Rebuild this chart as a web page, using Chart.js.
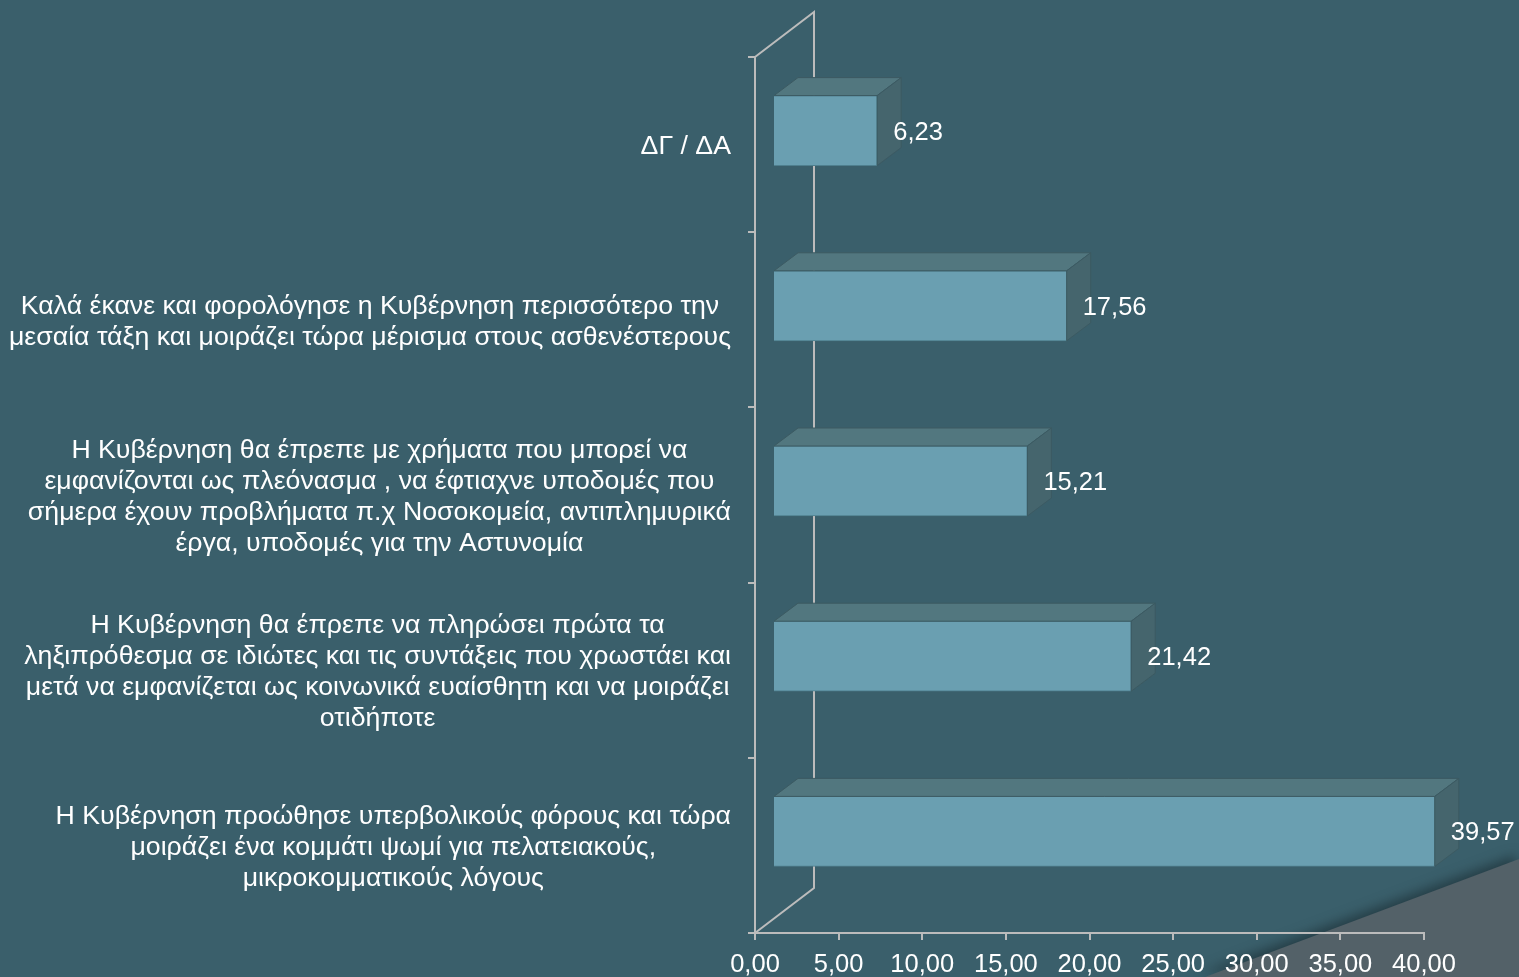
<!DOCTYPE html>
<html lang="el">
<head>
  <meta charset="UTF-8" />
  <title>Απόψεις για το μέρισμα</title>
  <script src="https://cdn.jsdelivr.net/npm/chart.js"></script>
  <style>
    body {
      margin: 0;
      background-color: #3a5f6b;
      overflow: hidden;
    }

    .wedge-wrap {
      position: absolute;
      left: 0;
      top: 0;
      width: 1519px;
      height: 977px;
      filter: drop-shadow(-3px -4px 6px rgba(20, 35, 40, 0.55));
    }

    .wedge {
      width: 100%;
      height: 100%;
      background-color: #536168;
      clip-path: polygon(1205px 977px, 1519px 859px, 1519px 977px);
    }

    .chart-box {
      position: relative;
      width: 1519px;
      height: 977px;
    }
  </style>
</head>
<body>
  <div class="wedge-wrap"><div class="wedge"></div></div>
  <div class="chart-box">
    <canvas id="opinionChart"></canvas>
  </div>

  <script>
    const categories = [
      ['ΔΓ / ΔΑ'],
      ['Καλά έκανε και φορολόγησε η Κυβέρνηση περισσότερο την',
       'μεσαία τάξη και μοιράζει τώρα μέρισμα στους ασθενέστερους'],
      ['Η Κυβέρνηση θα έπρεπε με χρήματα που μπορεί να',
       'εμφανίζονται ως πλεόνασμα , να έφτιαχνε υποδομές που',
       'σήμερα έχουν προβλήματα π.χ Νοσοκομεία, αντιπλημυρικά',
       'έργα, υποδομές για την Αστυνομία'],
      ['Η Κυβέρνηση θα έπρεπε να πληρώσει πρώτα τα',
       'ληξιπρόθεσμα σε ιδιώτες και τις συντάξεις που χρωστάει και',
       'μετά να εμφανίζεται ως κοινωνικά ευαίσθητη και να μοιράζει',
       'οτιδήποτε'],
      ['Η Κυβέρνηση προώθησε υπερβολικούς φόρους και τώρα',
       'μοιράζει ένα κομμάτι ψωμί για πελατειακούς,',
       'μικροκομματικούς λόγους']
    ];
    const percentages = [6.23, 17.56, 15.21, 21.42, 39.57];
    const axisMin = 0;
    const axisMax = 40;
    const axisStep = 5;

    const fmt = v => v.toFixed(2).replace('.', ',');
    const FONT = '"Liberation Sans", Arial, sans-serif';
    const lineColor = '#bcbcbc';

    // 3D offsets: bar front plane, bar depth, back wall
    const depth = { barDx: 18, barDy: -14, dx: 24, dy: -18, wallDx: 59, wallDy: -45 };

    const fake3d = {
      id: 'fake3d',
      beforeDatasetsDraw(chart) {
        const { ctx, chartArea: a } = chart;
        ctx.save();
        ctx.strokeStyle = lineColor;
        ctx.lineWidth = 2;
        ctx.beginPath();
        ctx.moveTo(a.left, a.top);
        ctx.lineTo(a.left + depth.wallDx, a.top + depth.wallDy);
        ctx.lineTo(a.left + depth.wallDx, a.bottom + depth.wallDy);
        ctx.lineTo(a.left, a.bottom);
        ctx.stroke();
        ctx.restore();

        ctx.save();
        ctx.translate(depth.barDx, depth.barDy);
      },
      afterDatasetsDraw(chart) {
        const { ctx } = chart;
        const meta = chart.getDatasetMeta(0);
        meta.data.forEach(bar => {
          const { x, y, base, height } = bar.getProps(['x', 'y', 'base', 'height'], true);
          const t = y - height / 2;
          const b = y + height / 2;
          ctx.lineWidth = 1;
          ctx.strokeStyle = '#3c5a62';
          // top face
          ctx.beginPath();
          ctx.moveTo(base, t);
          ctx.lineTo(base + depth.dx, t + depth.dy);
          ctx.lineTo(x + depth.dx, t + depth.dy);
          ctx.lineTo(x, t);
          ctx.closePath();
          ctx.fillStyle = '#52777f';
          ctx.fill();
          ctx.stroke();
          // side face
          ctx.beginPath();
          ctx.moveTo(x, t);
          ctx.lineTo(x + depth.dx, t + depth.dy);
          ctx.lineTo(x + depth.dx, b + depth.dy);
          ctx.lineTo(x, b);
          ctx.closePath();
          ctx.fillStyle = '#45656d';
          ctx.fill();
          ctx.stroke();
        });
        ctx.restore();

        // value labels
        ctx.save();
        ctx.fillStyle = '#ffffff';
        ctx.font = '25.5px ' + FONT;
        ctx.textAlign = 'left';
        ctx.textBaseline = 'middle';
        meta.data.forEach((bar, i) => {
          ctx.fillText(fmt(percentages[i]), bar.x + depth.barDx + 16, bar.y + depth.barDy + 2);
        });
        ctx.restore();
      },
      afterDraw(chart) {
        // category labels, each block centred on its own widest line
        const { ctx } = chart;
        const yScale = chart.scales.y;
        const right = chart.chartArea.left - 24;
        ctx.save();
        ctx.fillStyle = '#ffffff';
        ctx.font = '26.7px ' + FONT;
        ctx.textAlign = 'center';
        ctx.textBaseline = 'middle';
        categories.forEach((lines, i) => {
          const w = Math.max(...lines.map(l => ctx.measureText(l).width));
          const cx = right - w / 2;
          const cy = yScale.getPixelForTick(i) + 2;
          lines.forEach((l, j) => {
            ctx.fillText(l, cx, cy + (j - (lines.length - 1) / 2) * 31);
          });
        });
        ctx.restore();
      }
    };

    new Chart(document.getElementById('opinionChart'), {
      type: 'bar',
      data: {
        labels: categories,
        datasets: [{
          data: percentages,
          backgroundColor: '#6a9fb1',
          borderColor: '#4f7f8e',
          borderWidth: 1,
          barThickness: 70
        }]
      },
      options: {
        indexAxis: 'y',
        responsive: true,
        maintainAspectRatio: false,
        animation: false,
        layout: { padding: { top: 57, right: 95, left: 0, bottom: 0 } },
        scales: {
          x: {
            min: axisMin,
            max: axisMax,
            ticks: {
              stepSize: axisStep,
              color: '#ffffff',
              font: { size: 25.5, family: FONT },
              padding: 10,
              maxRotation: 0,
              callback: v => fmt(v)
            },
            grid: { drawOnChartArea: false, tickLength: 7, color: lineColor, lineWidth: 2 },
            border: { color: lineColor, width: 2 },
            afterFit: s => { s.height = 44; }
          },
          y: {
            ticks: { display: false },
            grid: { drawOnChartArea: false, tickLength: 7, color: lineColor, lineWidth: 2 },
            border: { color: lineColor, width: 2 },
            afterFit: s => { s.width = 755; }
          }
        },
        plugins: {
          legend: { display: false },
          tooltip: { enabled: false }
        }
      },
      plugins: [fake3d]
    });
  </script>
</body>
</html>
